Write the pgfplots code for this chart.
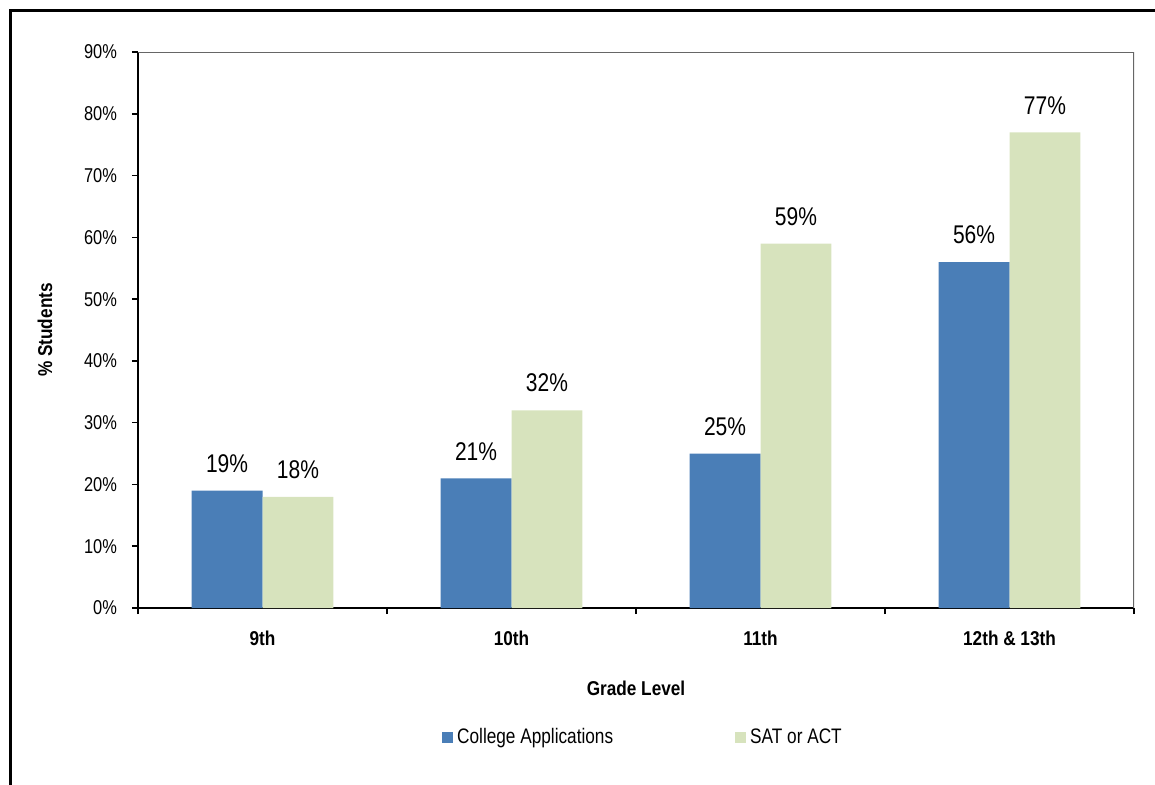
\documentclass[border=0pt]{standalone}
\usepackage{fontspec}
\setmainfont{Liberation Sans}[FakeStretch=0.82]
\newfontfamily\bnf{Liberation Sans}[FakeStretch=0.86]
\usepackage{pgfplots}
\pgfplotsset{compat=1.18}
\definecolor{cblue}{RGB}{74,126,183}
\definecolor{cgreen}{RGB}{215,227,189}
\begin{document}
\begin{tikzpicture}
\path[use as bounding box] (0,0) rectangle (577.5pt,-392.5pt);
\draw[line width=1.5pt] (5.25pt,-400pt) -- (5.25pt,-5.25pt) -- (590pt,-5.25pt);
\begin{axis}[
 at={(69pt,-304pt)}, anchor=south west,
 scale only axis, width=498pt, height=278pt,
 ymin=0, ymax=90, xmin=-0.5, xmax=3.5,
 ybar=0pt, bar width=0.285,
 axis x line*=bottom, axis y line*=left,
 axis line style={black, line width=1pt, -},
 /pgf/number format/assume math mode=true,
 ytick={0,10,...,90},
 yticklabel={\pgfmathprintnumber{\tick}\%},
 yticklabel style={xshift=-4pt},
 tick style={black, line width=0.8pt},
 tick align=outside, major tick length=3pt,
 xtick={-0.5,0.5,1.5,2.5,3.5}, xticklabels={},
 extra x ticks={0,1,2,3},
 extra x tick labels={9th,10th,11th,12th \& 13th},
 extra x tick style={major tick length=0pt, xticklabel style={font=\fontsize{10}{11}\selectfont\bnf\bfseries, yshift=-8pt}},
 tick label style={font=\fontsize{10}{11}\selectfont},
 xlabel={Grade Level}, ylabel={\% Students},
 every axis x label/.style={at={(axis description cs:0.5,-0.1439)},anchor=center,font=\fontsize{10}{11}\selectfont\bnf\bfseries},
 every axis y label/.style={at={(axis description cs:-0.0934,0.5)},rotate=90,anchor=center,font=\fontsize{10}{11}\selectfont\bnf\bfseries},
 nodes near coords={\pgfmathprintnumber{\pgfplotspointmeta}\%},
 nodes near coords style={font=\fontsize{12.8}{14}\selectfont, yshift=5.5pt, black},
 legend columns=2,
 legend style={draw=none, at={(0.508,-0.233)}, anchor=center, font=\fontsize{10.5}{12}\selectfont,
   /tikz/every even column/.append style={column sep=59pt}},
 legend image code/.code={\fill[#1] (0pt,-2.75pt) rectangle (5.5pt,2.75pt);},
]
\addplot[fill=cblue, draw=none] coordinates {(0,19) (1,21) (2,25) (3,56)};
\addplot[fill=cgreen, draw=none] coordinates {(0,18) (1,32) (2,59) (3,77)};
\legend{College Applications, SAT or ACT}
\draw[gray!80!black, line width=0.8pt] (rel axis cs:0,1) -- (rel axis cs:1,1) -- (rel axis cs:1,0);
\end{axis}
\end{tikzpicture}
\end{document}
